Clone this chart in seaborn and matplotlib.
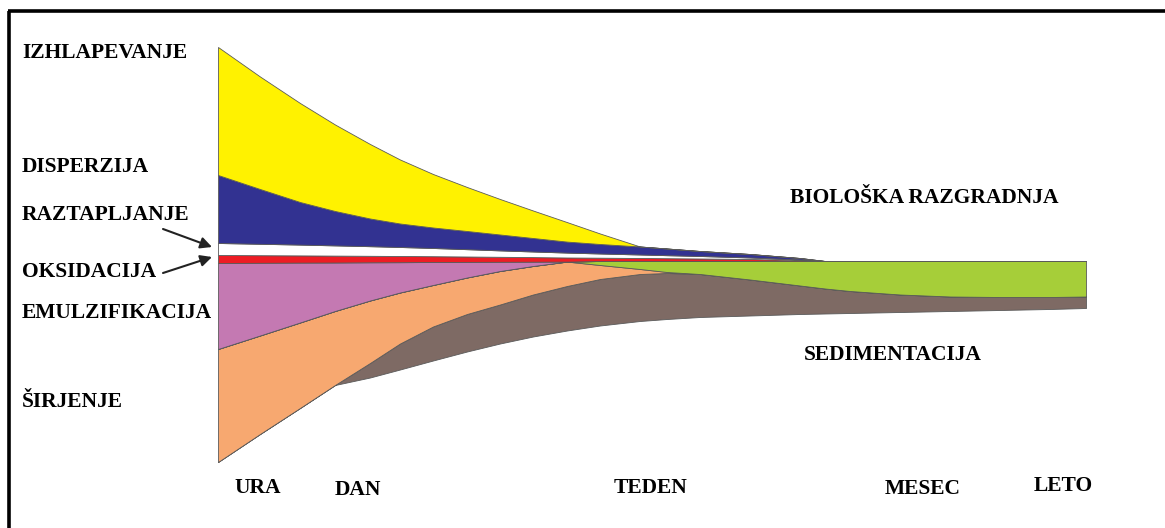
import matplotlib
matplotlib.use("Agg")
import matplotlib.pyplot as plt
import numpy as np
import seaborn as sns

# time axis of the diagram (horizontal position of each reading)
cas = [218, 260, 300, 335, 370, 400, 433, 467, 500, 533, 567, 600,
       640, 667, 700, 750, 800, 825, 850, 900, 950, 1000, 1050, 1086]
# lower envelope of the slick (stack starts here and grows upwards)
spodaj = [462, 434, 408, 385, 377.5, 369.5, 360.5, 351.5, 343.5, 336.5, 330.5, 325.5,
          321, 319, 317, 315.5, 314, 313.5, 313, 312, 311, 310, 309, 308]

# band thickness of each process, bottom to top
sedimentacija = [0, 0, 0, 0, 14.5, 26, 34, 37.5, 39, 42, 44.5, 46.5,
                 47, 46, 43, 36, 28.5, 25, 22, 17.5, 14.5, 13, 12, 11.5]
sirjenje = [113, 98.5, 85.5, 74, 62.5, 51, 41.5, 36.5, 33.5, 28.5, 24.4, 14,
            5, 1, 0, 0, 0, 0, 0, 0, 0, 0, 0, 0]
bioloska = [0, 0, 0, 0, 0, 0, 0, 0, 0, 0, 0, 4,
            8, 11, 13, 18.5, 24.5, 27.5, 30, 33.5, 35.5, 36, 36, 35.5]
emulzifikacija = [86, 72.7, 59.9, 48.5, 38.2, 30.3, 23, 15.6, 9.2, 4.3, 0, 0,
                  0, 0, 0, 0, 0, 0, 0, 0, 0, 0, 0, 0]
oksidacija = [8, 7.6, 7.2, 6.9, 6.5, 6.2, 5.8, 5.4, 5, 4.6, 4.1, 3.3,
              3, 2.8, 2.5, 2, 1, 0, 0, 0, 0, 0, 0, 0]
raztapljanje = [12, 11.4, 10.8, 10.2, 9.6, 9, 8.2, 7.3, 6.4, 5.6, 4.9, 4.2,
                3.5, 3, 2.5, 1.5, 0.5, 0, 0, 0, 0, 0, 0, 0]
disperzija = [68, 54.8, 42.6, 34.4, 27.7, 23.5, 20.5, 18.2, 15.9, 13.5, 11, 9.5,
              8, 6.7, 5, 3.5, 1.5, 0, 0, 0, 0, 0, 0, 0]
izhlapevanje = [128, 112.5, 99, 86.5, 74.5, 64, 53.5, 44, 35.5, 27.5, 19.5, 10.5,
                0, 0, 0, 0, 0, 0, 0, 0, 0, 0, 0, 0]

casovne_oznake = ["URA", "DAN", "TEDEN", "MESEC", "LETO"]

sloji = [sedimentacija, sirjenje, bioloska, emulzifikacija,
         oksidacija, raztapljanje, disperzija, izhlapevanje]
barve = ["#7E6A64", "#F7A870", "#A6CE39", "#C479B2",
         "#ED1C24", "#FFFFFF", "#323291", "#FFF200"]

sns.set_theme(style="white")

fig = plt.figure(figsize=(11.65, 5.28), dpi=100)
ax = fig.add_axes([0, 0, 1, 1])
ax.set_xlim(0, 1165)
ax.set_ylim(528, 0)
ax.axis("off")

x = np.array(cas, dtype=float)
spodnja = np.array(spodaj, dtype=float)
for debelina, barva in zip(sloji, barve):
    zgornja = spodnja - np.array(debelina, dtype=float)
    ax.fill_between(x, spodnja, zgornja, facecolor=barva,
                    edgecolor="#5a5a5a", linewidth=0.6)
    spodnja = zgornja

# frame (only top and left edges are visible)
ax.plot([8, 1165], [11, 11], color="black", lw=2.6, solid_capstyle="butt")
ax.plot([9.3, 9.3], [11, 528], color="black", lw=2.6, solid_capstyle="butt")

pisava = dict(family="Liberation Serif", weight="bold", fontsize=15.5, color="black")

levo = [("IZHLAPEVANJE", 58), ("DISPERZIJA", 172), ("RAZTAPLJANJE", 220),
        ("OKSIDACIJA", 277), ("EMULZIFIKACIJA", 318), ("ŠIRJENJE", 407)]
for besedilo, yb in levo:
    ax.text(22, yb, besedilo, ha="left", va="baseline", **pisava)

for besedilo, xc, yb in zip(casovne_oznake, [258, 358, 651, 923, 1063],
                            [493, 495, 493, 494, 491]):
    ax.text(xc, yb, besedilo, ha="center", va="baseline", **pisava)

ax.text(790, 203, "BIOLOŠKA RAZGRADNJA", ha="left", va="baseline", **pisava)
ax.text(804, 360, "SEDIMENTACIJA", ha="left", va="baseline", **pisava)

puscica = dict(arrowstyle="-|>", color="#222222", lw=1.5, mutation_scale=17,
               shrinkA=0, shrinkB=0)
ax.annotate("", xy=(212, 247), xytext=(163, 229), arrowprops=puscica)
ax.annotate("", xy=(212, 257), xytext=(163, 273), arrowprops=puscica)

fig.savefig("out.png", dpi=100)
